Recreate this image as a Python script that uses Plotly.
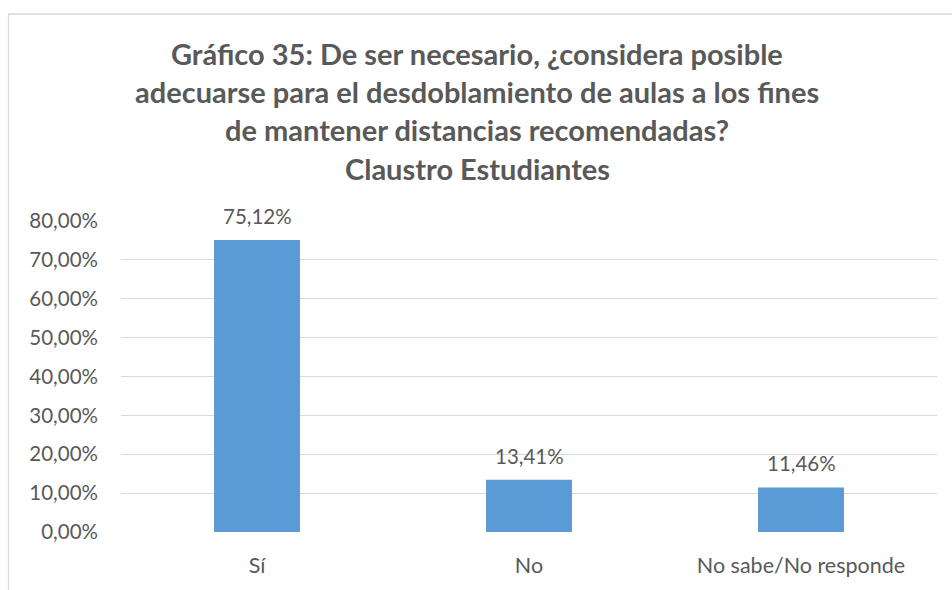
import plotly.graph_objects as go

categories = ["Sí", "No", "No sabe/No responde"]
values = [0.7512, 0.1341, 0.1146]
title_lines = [
    "Gráfico 35: De ser necesario, ¿considera posible",
    "adecuarse para el desdoblamiento de aulas a los fines",
    "de mantener distancias recomendadas?",
    "Claustro Estudiantes",
]
y_ticks = [0, 0.1, 0.2, 0.3, 0.4, 0.5, 0.6, 0.7, 0.8]

W, H = 952, 590
L, R, T, B = 121, 15, 221, 55
pw, ph = W - L - R, H - T - B

text_color = "#595959"
grid_color = "#D9D9D9"
bar_color = "#5B9BD5"
font_family = "Lato, Carlito, Calibri, sans-serif"


def px_x(x):
    return (x - L) / pw


def px_y(y):
    return 1 - (y - T) / ph


fig = go.Figure(
    go.Bar(
        x=categories,
        y=values,
        marker=dict(color=bar_color, line=dict(width=0)),
        width=0.316,
        hoverinfo="skip",
    )
)

# value labels above each bar
for c, v in zip(categories, values):
    fig.add_annotation(
        x=c, y=v, xref="x", yref="y",
        text=f"{v * 100:.2f}%".replace(".", ","),
        showarrow=False, yanchor="bottom", yshift=10,
        font=dict(size=20.5, color=text_color, family=font_family),
    )

# title, one annotation per line
title_centers = [52, 90.5, 129, 167.5]
for line, yc in zip(title_lines, title_centers):
    fig.add_annotation(
        x=px_x(477), y=px_y(yc), xref="paper", yref="paper",
        text=f"<b>{line}</b>", showarrow=False,
        xanchor="center", yanchor="middle",
        font=dict(size=29, color=text_color, family=font_family),
    )

# chart frame (left and top edges)
frame = dict(color=grid_color, width=1.3)
fig.add_shape(type="line", xref="paper", yref="paper",
              x0=px_x(8.5), x1=px_x(8.5), y0=px_y(12), y1=px_y(H + 5), line=frame)
fig.add_shape(type="line", xref="paper", yref="paper",
              x0=px_x(8.5), x1=px_x(W + 5), y0=px_y(12), y1=px_y(12), line=frame)

fig.update_layout(
    width=W, height=H,
    margin=dict(l=L, r=R, t=T, b=B),
    paper_bgcolor="white", plot_bgcolor="white",
    separators=",.",
    showlegend=False,
    xaxis=dict(
        showgrid=False, zeroline=False, showline=False, ticks="",
        tickfont=dict(size=21.5, color=text_color, family=font_family),
        ticklabelstandoff=18,
    ),
    yaxis=dict(
        range=[0, 0.8], tickvals=y_ticks, tickformat=".2%",
        showgrid=True, gridcolor=grid_color, gridwidth=1.3,
        zeroline=False, showline=False, ticks="",
        tickfont=dict(size=20.5, color=text_color, family=font_family),
        ticklabelstandoff=22,
    ),
)

fig.write_html("out.html")
